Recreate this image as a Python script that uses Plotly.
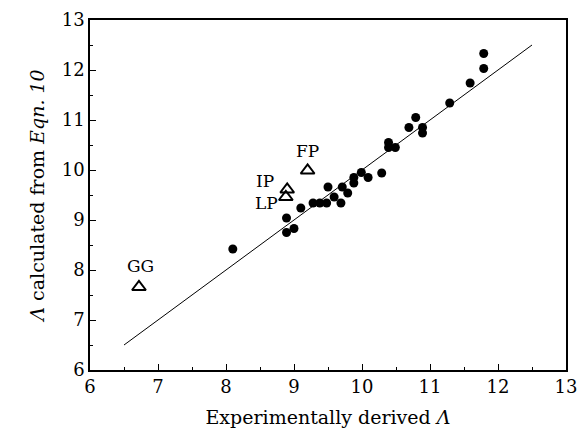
import plotly.graph_objects as go

# Filled circles: experimentally derived vs calculated
exp_x = [8.10, 8.89, 8.89, 9.00, 9.10, 9.28, 9.38, 9.48, 9.50, 9.59, 9.69, 9.71,
         9.79, 9.88, 9.88, 9.99, 10.09, 10.29, 10.39, 10.39, 10.49, 10.69, 10.79,
         10.89, 10.89, 11.29, 11.59, 11.79, 11.79]
calc_y = [8.42, 9.04, 8.75, 8.83, 9.24, 9.34, 9.34, 9.34, 9.66, 9.46, 9.34, 9.66,
          9.54, 9.74, 9.85, 9.95, 9.85, 9.94, 10.55, 10.45, 10.45, 10.85, 11.05,
          10.85, 10.74, 11.34, 11.74, 12.33, 12.03]

# Open triangles (labelled)
tri_names = ["GG", "IP", "LP", "FP"]
tri_x = [6.72, 8.90, 8.88, 9.20]
tri_y = [7.66, 9.61, 9.46, 9.99]

# Line of equality
line_x = [6.5, 12.5]
line_y = [6.5, 12.5]

FONT = "DejaVu Serif"

fig = go.Figure()
fig.add_trace(go.Scatter(x=line_x, y=line_y, mode="lines",
                         line=dict(color="black", width=1), showlegend=False,
                         hoverinfo="skip"))
fig.add_trace(go.Scatter(x=exp_x, y=calc_y, mode="markers",
                         marker=dict(symbol="circle", size=9, color="black"),
                         showlegend=False))
fig.add_trace(go.Scatter(x=tri_x, y=tri_y, mode="markers",
                         marker=dict(symbol="triangle-up-open", size=12, color="black",
                                     line=dict(width=2)),
                         showlegend=False))

label_pos = {"GG": (6.74, 8.09, "center"), "FP": (9.20, 10.38, "center"),
             "IP": (8.74, 9.79, "right"), "LP": (8.80, 9.34, "right")}
for n in tri_names:
    lx, ly, xa = label_pos[n]
    fig.add_annotation(x=lx, y=ly, text=n, showarrow=False, xanchor=xa,
                       yanchor="middle", font=dict(family=FONT, size=17, color="black"))

axis_common = dict(showgrid=False, zeroline=False, showline=True, linecolor="black",
                   linewidth=1.5, mirror=True, ticks="inside", ticklen=6,
                   tickwidth=1.2, tickcolor="black", dtick=1, automargin=False,
                   tickfont=dict(family=FONT, size=18, color="black"),
                   minor=dict(ticks="inside", ticklen=3, dtick=0.5, tickcolor="black",
                              tickwidth=1))

fig.update_xaxes(range=[6, 13], tick0=6,
                 title=dict(text="Experimentally derived <i>Λ</i>",
                            font=dict(family=FONT, size=19, color="black"), standoff=14),
                 **axis_common)
fig.update_yaxes(range=[6, 13], tick0=6,
                 title=dict(text="<i>Λ</i> calculated from <i>Eqn. 10</i>",
                            font=dict(family=FONT, size=19, color="black"), standoff=12),
                 **axis_common)

fig.update_layout(width=580, height=441, margin=dict(l=90, r=14, t=20, b=71),
                  plot_bgcolor="white", paper_bgcolor="white")

fig.write_html("out.html", config={"displayModeBar": False},
               post_script="document.body.style.margin='0px';document.body.style.overflow='hidden';")
